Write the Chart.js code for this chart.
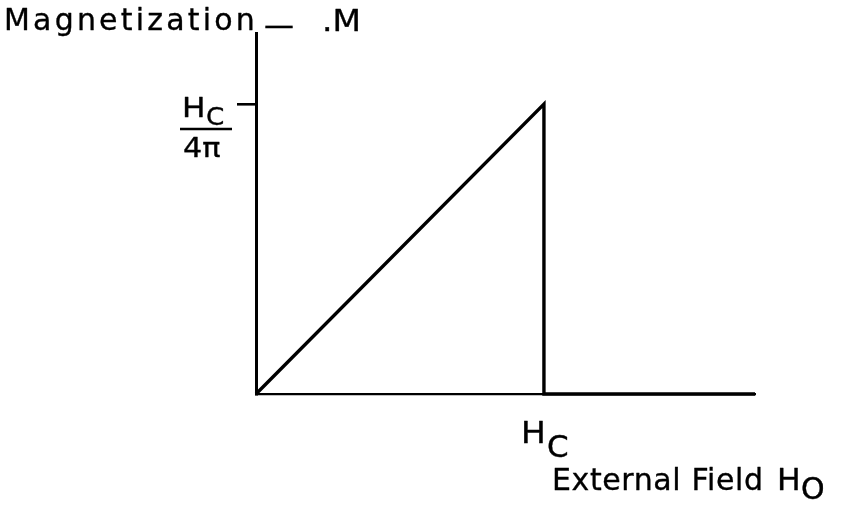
<!DOCTYPE html>
<html>
<head>
<meta charset="utf-8">
<script src="https://cdn.jsdelivr.net/npm/chart.js@4/dist/chart.umd.min.js"></script>
<style>
  html, body { margin: 0; padding: 0; background: #fff; }
  #wrap { width: 843px; height: 505px; }
</style>
</head>
<body>
<div id="wrap"><canvas id="c" width="843" height="505"></canvas></div>
<script>
// External field H0, in units of the critical field Hc
const fieldH = [0, 1, 1, 1.733];
// Magnetization M, in units of Hc / 4π
const magM = [0, 1, 0, 0];
// Only one marked value on the M axis: Hc / 4π
const yTickValues = [1];
// Value of the H0 axis that carries the "Hc" label
const xMarkValue = 1;

const X_MAX = 1.733;
const Y_MAX = 1.245;

const INK = '#000';
const SANS = '"DejaVu Sans", sans-serif';

// Draws lettering-style text: optional horizontal stretch and letter spacing,
// with a hairline outline so the strokes read like pen lettering
function letter(ctx, str, x, base, size, opts = {}) {
  const sx = opts.sx || 1;
  ctx.save();
  ctx.font = size + 'px ' + SANS;
  ctx.letterSpacing = (opts.ls || 0) + 'px';
  ctx.translate(x, base);
  ctx.scale(sx, 1);
  ctx.lineWidth = 0.35;
  ctx.lineJoin = 'round';
  ctx.fillText(str, 0, 0);
  ctx.strokeText(str, 0, 0);
  ctx.restore();
}

// Axis titles, tick label fraction and the Hc marker, drawn on top of the chart
const labelPlugin = {
  id: 'labels',
  afterDraw(chart) {
    const { ctx, scales: { x, y } } = chart;
    ctx.save();
    ctx.fillStyle = INK;
    ctx.strokeStyle = INK;
    ctx.textAlign = 'left';
    ctx.textBaseline = 'alphabetic';

    // vertical axis title
    letter(ctx, 'Magnetization', 4, 30, 30, { ls: 3.2 });
    letter(ctx, '—', 264, 35, 30);
    letter(ctx, '.M', 322, 31, 30, { sx: 1.1 });

    // tick label at M = Hc/4π, written as a fraction
    const ty = y.getPixelForValue(yTickValues[0]);
    letter(ctx, 'H', 182, ty + 13, 26, { sx: 1.2 });
    letter(ctx, 'C', 206, ty + 21, 25, { sx: 1.05 });
    ctx.lineWidth = 2.6;
    ctx.beginPath();
    ctx.moveTo(180, ty + 25);
    ctx.lineTo(232, ty + 25);
    ctx.stroke();
    letter(ctx, '4π', 183, ty + 53, 27, { sx: 1.12 });

    // Hc marker below the horizontal axis
    const hx = x.getPixelForValue(xMarkValue);
    letter(ctx, 'H', hx - 23, 443, 30, { sx: 1.1 });
    letter(ctx, 'C', hx + 3, 457, 31);

    // horizontal axis title
    letter(ctx, 'External Field', 552, 490, 30, { ls: 0.6 });
    letter(ctx, 'H', 777, 490, 30, { sx: 1.05 });
    letter(ctx, 'O', 801, 499, 30);

    ctx.restore();
  }
};

new Chart(document.getElementById('c'), {
  type: 'scatter',
  data: {
    datasets: [{
      data: fieldH.map((h, i) => ({ x: h, y: magM[i] })),
      showLine: true,
      borderColor: INK,
      borderWidth: 3.4,
      pointRadius: 0,
      tension: 0,
      clip: false,
      borderJoinStyle: 'miter',
      borderCapStyle: 'butt'
    }]
  },
  options: {
    responsive: false,
    animation: false,
    devicePixelRatio: 1,
    layout: { padding: { left: 236, right: 88, top: 33, bottom: 111 } },
    plugins: { legend: { display: false }, tooltip: { enabled: false } },
    scales: {
      x: {
        type: 'linear',
        min: 0,
        max: X_MAX,
        grid: { display: false, drawTicks: false },
        border: { display: true, color: INK, width: 2.2 },
        ticks: { display: false },
        afterFit(scale) { scale.height = 0; }
      },
      y: {
        type: 'linear',
        min: 0,
        max: Y_MAX,
        afterBuildTicks(scale) { scale.ticks = yTickValues.map(v => ({ value: v })); },
        grid: { display: true, drawOnChartArea: false, drawTicks: true, tickLength: 19, color: INK, lineWidth: 2.6 },
        border: { display: true, color: INK, width: 3 },
        ticks: { display: false },
        afterFit(scale) { scale.width = 20; }
      }
    }
  },
  plugins: [labelPlugin]
});
</script>
</body>
</html>
